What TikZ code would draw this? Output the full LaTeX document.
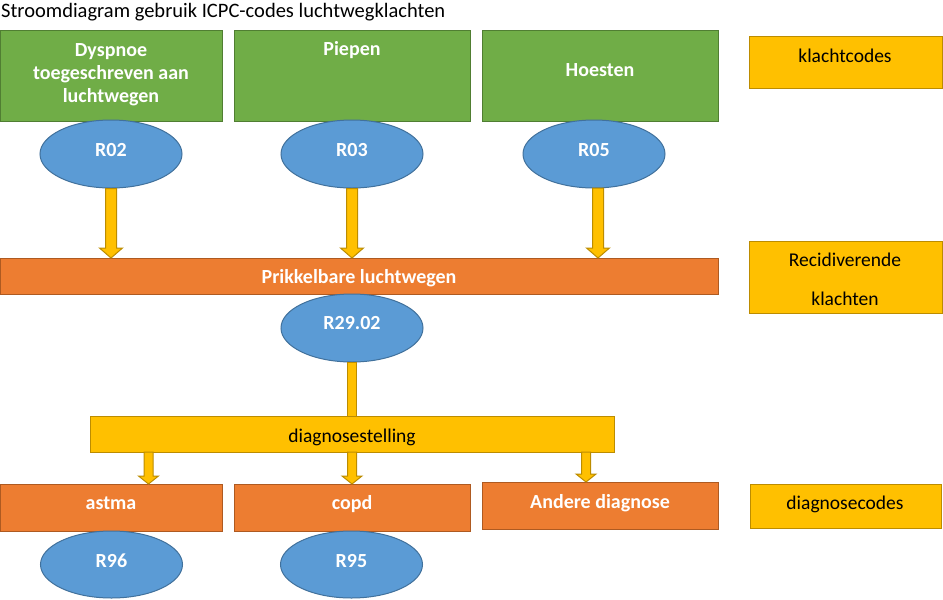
\documentclass[tikz,border=0pt]{standalone}
\usepackage{fontspec}
\setmainfont{Carlito}
\usetikzlibrary{calc,shapes.geometric}
\definecolor{gfill}{HTML}{70AD47}\definecolor{gdraw}{HTML}{507E32}
\definecolor{bfill}{HTML}{5B9BD5}\definecolor{bdraw}{HTML}{41719C}
\definecolor{ofill}{HTML}{ED7D31}\definecolor{odraw}{HTML}{AE5A21}
\definecolor{yfill}{HTML}{FFC000}\definecolor{ydraw}{HTML}{BC8C00}
% block arrow: from, to, half shaft, half head, head length
\newcommand\blockarr[5]{%
  \draw[fill=yfill, draw=ydraw, line width=1pt] let \p1=(#1), \p2=(#2) in
    (\x1-#3,\y1) -- (\x1-#3,\y2+#5) -- (\x1-#4,\y2+#5) -- (\x1,\y2)
    -- (\x1+#4,\y2+#5) -- (\x1+#3,\y2+#5) -- (\x1+#3,\y1) -- cycle;}
\begin{document}
\begin{tikzpicture}[x=1pt,y=-1pt,
  box/.style={rectangle, line width=1pt, inner sep=0, anchor=north west},
  gbox/.style={box, fill=gfill, draw=gdraw},
  obox/.style={box, fill=ofill, draw=odraw},
  ybox/.style={box, fill=yfill, draw=ydraw},
  ell/.style={ellipse, fill=bfill, draw=bdraw, line width=1pt,
              minimum width=142pt, minimum height=68pt, inner sep=0},
  wtxt/.style={text=white, font=\fontsize{20}{23}\selectfont\bfseries, inner sep=0, anchor=base, align=center},
  ktxt/.style={text=black, font=\fontsize{19.5}{23}\selectfont, inner sep=0, anchor=base, align=center}
]
\useasboundingbox (0,0) rectangle (943,600);
\fill[white] (0,0) rectangle (943,600);

% title
\node[ktxt, anchor=base west, font=\fontsize{20.5}{24}\selectfont] (title) at (1,17) {Stroomdiagram gebruik ICPC-codes luchtwegklachten};

% top green boxes
\node[gbox, minimum width=222pt, minimum height=91pt] (g1) at (0,30) {};
\node[gbox, minimum width=236pt, minimum height=91pt] (g2) at (234,30) {};
\node[gbox, minimum width=236pt, minimum height=91pt] (g3) at (482,30) {};
\node[wtxt, anchor=north] (t1) at (111,43) {Dyspnoe\\toegeschreven aan\\luchtwegen};
\node[wtxt] (t2) at (352,55) {Piepen};
\node[wtxt] (t3) at (600,76) {Hoesten};

% code ellipses
\node[ell] (R02) at (111,154) {};
\node[ell] (R03) at (352,154) {};
\node[ell] (R05) at (594,154) {};
\node[wtxt] at (111,156) {R02};
\node[wtxt] at (352,156) {R03};
\node[wtxt] at (594,156) {R05};

% bar
\node[obox, minimum width=718pt, minimum height=36pt] (bar) at (0,258) {};
\node[wtxt] at (359,283) {Prikkelbare luchtwegen};

\coordinate (s5) at (598,188);
\blockarr{R02.south}{bar.north}{5.5pt}{11.5pt}{10pt}
\blockarr{R03.south}{bar.north}{5.5pt}{11.5pt}{10pt}
\blockarr{s5}{bar.north}{5.5pt}{11.5pt}{10pt}

\node[ell] (R29) at (352,328) {};
\node[wtxt] at (352,329) {R29.02};

% diagnosestelling
\node[ybox, minimum width=524pt, minimum height=36pt] (diag) at (90,416) {};
\node[ktxt] at (352,442) {diagnosestelling};
\draw[fill=yfill, draw=ydraw, line width=1pt] let \p1=(R29.south), \p2=(diag.north) in
  (\x1-4.5pt,\y1) rectangle (\x1+4.5pt,\y2);

% diagnosis boxes
\node[obox, minimum width=222pt, minimum height=47pt] (astma) at (0,484) {};
\node[obox, minimum width=236pt, minimum height=47pt] (copd) at (234,484) {};
\node[obox, minimum width=236pt, minimum height=47pt] (andere) at (482,482) {};
\node[wtxt] at (111,509) {astma};
\node[wtxt] at (352,509) {copd};
\node[wtxt] at (600,508) {Andere diagnose};

\coordinate (d1) at (148.5,452);
\coordinate (d2) at (352,452);
\coordinate (d3) at (586,452);
\blockarr{d1}{astma.north}{4.5pt}{10pt}{8pt}
\blockarr{d2}{copd.north}{4.5pt}{10pt}{8pt}
\blockarr{d3}{andere.north}{4.5pt}{10pt}{8pt}

\node[ell, minimum height=67pt] (R96) at (111.5,564.5) {};
\node[ell, minimum height=67pt] (R95) at (351.5,564.5) {};
\node[wtxt] at (111.5,567) {R96};
\node[wtxt] at (351.5,567) {R95};

% legend
\node[ybox, minimum width=193pt, minimum height=52pt] (L1) at (749,36) {};
\node[ktxt] at (845,62) {klachtcodes};
\node[ybox, minimum width=193pt, minimum height=72pt] (L2) at (749,241) {};
\node[ktxt, anchor=north] at (845,253) {Recidiverende\\[16pt]klachten};
\node[ybox, minimum width=191pt, minimum height=44pt] (L3) at (750,484) {};
\node[ktxt] at (845,509) {diagnosecodes};
\end{tikzpicture}
\end{document}
